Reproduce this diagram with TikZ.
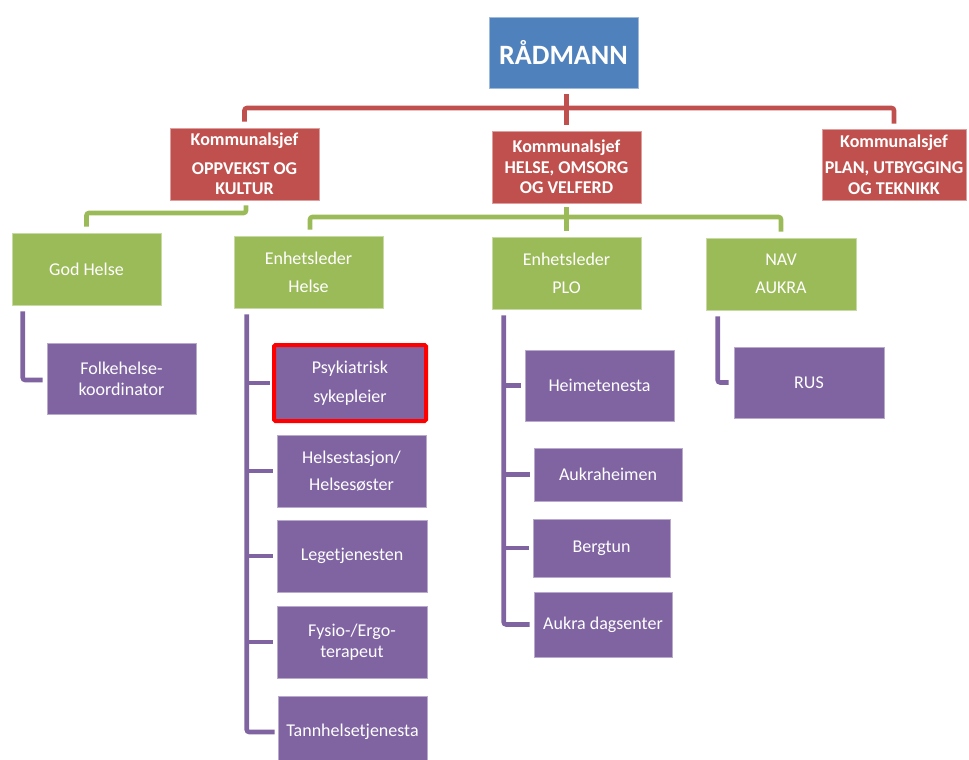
\documentclass[tikz,border=0pt]{standalone}
\usepackage{fontspec}
\setmainfont{Carlito}
\usetikzlibrary{calc}
\definecolor{bossblue}{HTML}{4F81BD}
\definecolor{chiefred}{HTML}{C0504D}
\definecolor{unitgreen}{HTML}{9BBB59}
\definecolor{servpurple}{HTML}{8064A2}
\newcommand\fsz[2]{\fontsize{#1}{#2}\selectfont}
\tikzset{
  box/.style={minimum width=149pt, minimum height=72pt, inner sep=0pt,
    align=center, text=white, font=\fsz{18}{21}, line width=.6pt},
  boss/.style={box, fill=bossblue, draw=bossblue!55!white, font=\bfseries\fsz{28}{30}},
  chief/.style={box, fill=chiefred, draw=chiefred!55!white, font=\bfseries\fsz{18}{20.5}},
  unit/.style={box, fill=unitgreen, draw=unitgreen!55!white},
  service/.style={box, fill=servpurple, draw=servpurple!55!white},
  marked/.style={draw=red, line width=4pt, rounded corners=1.5pt},
  link/.style={line width=4.6pt, rounded corners=2.5pt, line cap=butt},
  redlink/.style={link, draw=chiefred},
  greenlink/.style={link, draw=unitgreen},
  purplelink/.style={link, draw=servpurple},
}
\begin{document}
\begin{tikzpicture}[x=1pt,y=-1pt]
\useasboundingbox (0,0) rectangle (969,760);
\clip (0,0) rectangle (969,760);

% top level
\node[boss] (rad) at (563.5,52.5) [minimum height=71pt] {RÅDMANN};

% chiefs
\node[chief] (ko) at (244.5,164) {Kommunalsjef\\[8pt]OPPVEKST OG\\KULTUR};
\node[chief] (kh) at (566.5,167) {Kommunalsjef\\HELSE, OMSORG\\OG VELFERD};
\node[chief, minimum width=144pt, minimum height=71pt] (kp) at (894,164.5)
  {Kommunalsjef\\[6pt]PLAN, UTBYGGING\\OG TEKNIKK};

% units
\node[unit] (gh)  at (86.5,269) {God Helse};
\node[unit] (eh)  at (308.5,272) {Enhetsleder\\[7pt]Helse};
\node[unit] (ep)  at (566.5,273) {Enhetsleder\\[7pt]PLO};
\node[unit, minimum width=150pt] (nav) at (781,274) {NAV\\[7pt]AUKRA};

% services
\node[service, minimum height=71pt] (fk) at (121.5,378.5) {Folkehelse-\\koordinator};
\node[service, marked, minimum width=152pt, minimum height=76pt] (psy) at (350,383)
  {Psykiatrisk\\[8pt]sykepleier};
\node[service] (hs) at (351.5,471) {Helsestasjon/\\[6pt]Helsesøster};
\node[service, minimum width=150pt] (lt) at (352,556) {Legetjenesten};
\node[service, minimum width=150pt] (fy) at (352,642) {Fysio-/Ergo-\\terapeut};
\node[service] (th) at (352.5,732) {Tannhelsetjenesta};

\node[service, minimum height=71pt] (hm) at (599.5,385.5) {Heimetenesta};
\node[service, minimum width=148pt, minimum height=53pt] (ah) at (608,474.5) {Aukraheimen};
\node[service, minimum width=137pt, minimum height=58pt] (bt) at (601.5,548) {Bergtun};
\node[service, minimum width=138pt, minimum height=65pt] (ad) at (603,624.5) {Aukra dagsenter};

\node[service, minimum width=150pt, minimum height=71pt] (rus) at (809,382.5) {RUS};

% red bus from the top
\coordinate (rbus) at (0,108);
\draw[redlink] ($(ko.north)+(0,-6)$) -- (ko.north |- rbus) -- (kp.north |- rbus)
  -- ($(kp.north)+(0,-5)$);
\draw[redlink] ($(rad.south -| kh.north)+(0,6)$) -- ($(kh.north)+(0,-6)$);

% green bus under OPPVEKST OG KULTUR
\coordinate (gbus1) at (0,213);
\draw[greenlink] ($(ko.south)+(1.5,5)$) -- ($(ko.south |- gbus1)+(1.5,0)$)
  -- (gh.north |- gbus1) -- ($(gh.north)+(0,-6)$);

% green bus under HELSE, OMSORG OG VELFERD
\coordinate (gbus2) at (0,217);
\draw[greenlink] ($(eh.north)+(1.5,-6)$) -- ($(eh.north |- gbus2)+(1.5,0)$)
  -- (nav.north |- gbus2) -- ($(nav.north)+(0,-6)$);
\draw[greenlink] ($(kh.south)+(0,4)$) -- ($(ep.north)+(0,-6)$);

% purple trees
\coordinate (ghx) at ($(gh.south west)+(11,6)$);
\draw[purplelink] (ghx) |- ($(fk.west)+(-4,1.5)$);

\coordinate (ehx) at ($(eh.south west)+(13,6)$);
\draw[purplelink] (ehx) |- ($(th.west)+(-3,0)$);
\draw[purplelink] (ehx |- psy.west) -- ($(psy.west)+(-2,0)$);
\draw[purplelink] (ehx |- hs.west) -- ($(hs.west)+(-4,0)$);
\draw[purplelink] (ehx |- lt.west) -- ($(lt.west)+(-4,0)$);
\draw[purplelink] (ehx |- fy.west) -- ($(fy.west)+(-4,0)$);

\coordinate (epx) at ($(ep.south west)+(12,6)$);
\draw[purplelink] (epx) |- ($(ad.west)+(-4,0)$);
\draw[purplelink] (epx |- hm.west) -- ($(hm.west)+(-4,0)$);
\draw[purplelink] (epx |- ah.west) -- ($(ah.west)+(-4,0)$);
\draw[purplelink] (epx |- bt.west) -- ($(bt.west)+(-4,0)$);

\coordinate (navx) at ($(nav.south west)+(12,6)$);
\draw[purplelink] (navx) |- ($(rus.west)+(-5,0)$);
\end{tikzpicture}
\end{document}
